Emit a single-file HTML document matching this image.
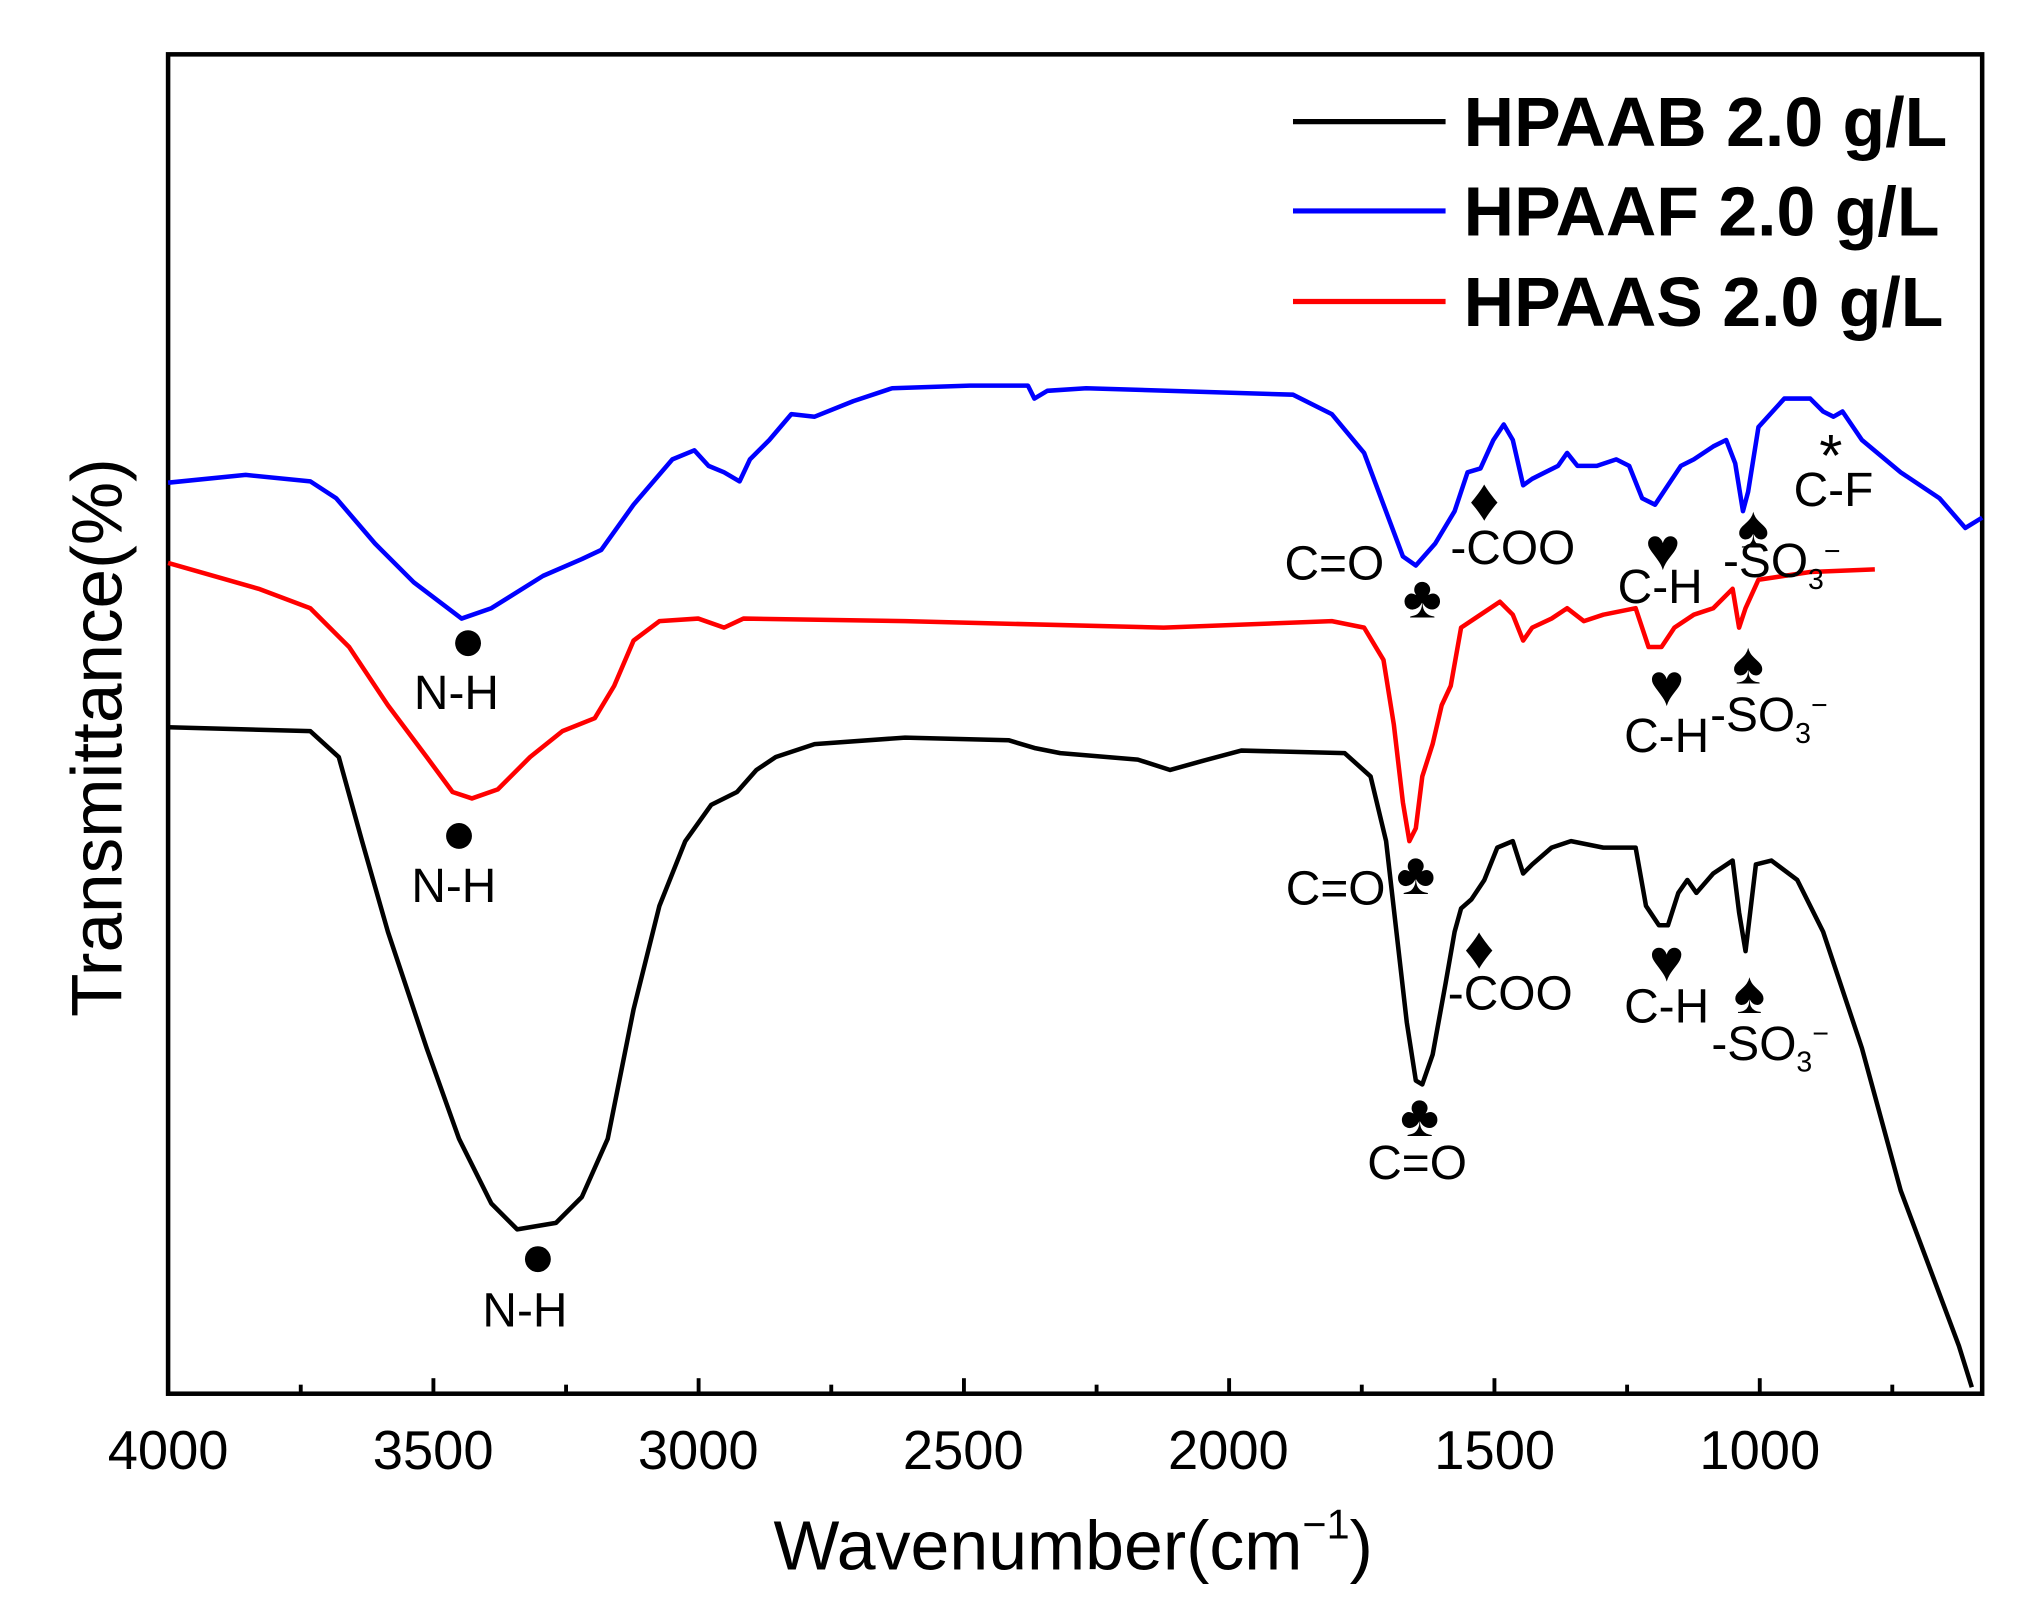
<!DOCTYPE html>
<html><head><meta charset="utf-8"><style>html,body{margin:0;padding:0;background:#fff}svg{display:block}</style></head>
<body>
<svg width="2030" height="1615" viewBox="0 0 1570 1248" preserveAspectRatio="none" xmlns="http://www.w3.org/2000/svg" font-family="Liberation Sans, Arial, sans-serif">
<rect x="130" y="42" width="1403" height="1035" fill="none" stroke="#000" stroke-width="3.5"/>
<g stroke="#000" stroke-width="3">
<line x1="130" y1="1077" x2="130" y2="1065"/><line x1="232.6" y1="1077" x2="232.6" y2="1070"/>
<line x1="335.2" y1="1077" x2="335.2" y2="1065"/><line x1="437.8" y1="1077" x2="437.8" y2="1070"/>
<line x1="540.3" y1="1077" x2="540.3" y2="1065"/><line x1="642.9" y1="1077" x2="642.9" y2="1070"/>
<line x1="745.5" y1="1077" x2="745.5" y2="1065"/><line x1="848.1" y1="1077" x2="848.1" y2="1070"/>
<line x1="950.6" y1="1077" x2="950.6" y2="1065"/><line x1="1053.2" y1="1077" x2="1053.2" y2="1070"/>
<line x1="1155.8" y1="1077" x2="1155.8" y2="1065"/><line x1="1258.4" y1="1077" x2="1258.4" y2="1070"/>
<line x1="1361" y1="1077" x2="1361" y2="1065"/><line x1="1463.5" y1="1077" x2="1463.5" y2="1070"/>
</g>
<g font-size="42" text-anchor="middle">
<text x="130" y="1135">4000</text><text x="335" y="1135">3500</text><text x="540" y="1135">3000</text>
<text x="745" y="1135">2500</text><text x="950" y="1135">2000</text><text x="1156" y="1135">1500</text><text x="1361" y="1135">1000</text>
</g>
<text x="830" y="1213" font-size="54" text-anchor="middle">Wavenumber(cm<tspan font-size="32" dy="-24">−1</tspan><tspan dy="24">)</tspan></text>
<text transform="translate(94,570) rotate(-90)" font-size="55" text-anchor="middle">Transmittance(%)</text>
<g fill="none" stroke-width="3.5" stroke-linejoin="round">
<polyline stroke="#0000ff" points="130,373 190,367 240,372 260,385 290,420 320,450 357,478 380,470 420,445 450,432 465,425 490,390 520,355 537,348 548,360 560,365 572,372 580,355 595,340 612,320 630,322 660,310 690,300 750,298 795,298 800,308 810,302 840,300 1000,305 1030,320 1055,350 1070,390 1085,430 1095,437 1110,420 1125,395 1135,365 1145,362 1155,340 1163,328 1170,340 1178,375 1185,370 1195,365 1205,360 1212,350 1220,360 1235,360 1250,355 1260,360 1270,385 1280,390 1290,375 1300,360 1310,355 1325,345 1335,340 1342,358 1348,395 1352,380 1360,330 1380,308 1400,308 1410,318 1418,322 1425,318 1440,340 1470,365 1500,385 1520,408 1533,400"/>
<polyline stroke="#ff0000" points="130,435 200,455 240,470 270,500 300,545 330,585 350,612 365,617 385,610 410,585 435,565 460,555 475,530 490,495 510,480 540,478 560,485 575,478 700,480 900,485 1030,480 1055,485 1070,510 1078,560 1085,620 1090,650 1095,640 1100,600 1108,575 1115,545 1122,530 1130,485 1145,475 1160,465 1170,475 1178,495 1185,485 1200,478 1212,470 1225,480 1240,475 1265,470 1275,500 1285,500 1295,485 1310,475 1325,470 1340,455 1345,485 1350,470 1360,448 1400,442 1450,440"/>
<polyline stroke="#000" points="130,562 240,565 262,585 280,650 300,720 330,810 355,880 380,930 400,950 430,945 450,925 470,880 490,780 510,700 530,650 550,622 570,612 585,595 600,585 630,575 700,570 780,572 800,578 820,582 880,587 905,595 930,588 960,580 1040,582 1060,600 1072,650 1080,720 1088,790 1095,835 1100,838 1108,815 1118,760 1125,720 1130,702 1138,695 1148,680 1158,655 1170,650 1178,675 1185,668 1200,655 1215,650 1240,655 1265,655 1273,700 1283,715 1290,715 1298,690 1305,680 1312,690 1325,675 1340,665 1345,705 1350,735 1353,710 1358,668 1370,665 1390,680 1410,720 1440,810 1470,920 1500,1000 1515,1040 1525,1072"/>
</g>
<g stroke-width="4"><line x1="1000" y1="94" x2="1118" y2="94" stroke="#000"/><line x1="1000" y1="163" x2="1118" y2="163" stroke="#0000ff"/><line x1="1000" y1="233" x2="1118" y2="233" stroke="#ff0000"/></g>
<g font-size="54" font-weight="bold"><text x="1132" y="113">HPAAB 2.0 g/L</text><text x="1132" y="182">HPAAF 2.0 g/L</text><text x="1132" y="252">HPAAS 2.0 g/L</text></g>
<g font-size="37" text-anchor="middle">
<circle cx="362" cy="497" r="10"/><text x="353" y="548">N-H</text>
<circle cx="355" cy="646" r="10"/><text x="351" y="697">N-H</text>
<circle cx="416" cy="973" r="10"/><text x="406" y="1025">N-H</text>
<text x="1032" y="448">C=O</text><text x="1284" y="466">C-H</text>
<text x="1170" y="436">-COO</text>
<text x="1378" y="446">-SO<tspan font-size="22" dy="9">3</tspan><tspan font-size="22" dy="-22">−</tspan></text>
<text x="1418" y="391">C-F</text>
<text x="1033" y="699">C=O</text><text x="1289" y="581">C-H</text>
<text x="1368" y="565">-SO<tspan font-size="22" dy="9">3</tspan><tspan font-size="22" dy="-22">−</tspan></text>
<text x="1168" y="780">-COO</text><text x="1096" y="911">C=O</text><text x="1289" y="790">C-H</text>
<text x="1369" y="819">-SO<tspan font-size="22" dy="9">3</tspan><tspan font-size="22" dy="-22">−</tspan></text>
</g>
<g font-size="46" text-anchor="middle">
<text x="1100" y="477">♣</text><text x="1148" y="402">♦</text><text x="1286" y="440">♥</text><text x="1356" y="423">♠</text>
<text x="1416" y="368">*</text>
<text x="1095" y="691">♣</text><text x="1289" y="545">♥</text><text x="1352" y="528">♠</text>
<text x="1144" y="748">♦</text><text x="1098" y="878">♣</text><text x="1289" y="758">♥</text><text x="1353" y="783">♠</text>
</g>
</svg>
</body></html>
